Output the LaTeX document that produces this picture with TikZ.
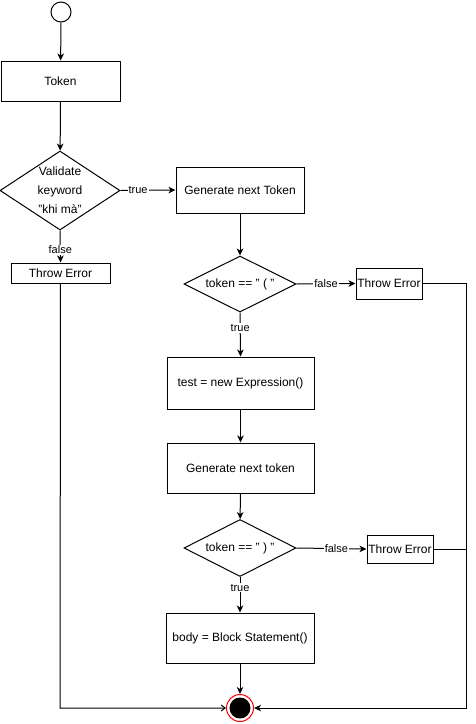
\documentclass[tikz,border=0pt]{standalone}
\usepackage{fontspec}
\setmainfont{Liberation Sans}
\usetikzlibrary{shapes.geometric,arrows.meta}

\tikzset{
  base/.style={draw=black, line width=1pt, fill=white, inner sep=0pt,
    font=\fontsize{12}{14}\selectfont, align=center},
  procbox/.style={base, rectangle},
  decision/.style={base, diamond, aspect=2},
  startnode/.style={circle, draw=black, line width=1pt, fill=white,
    minimum size=20pt, inner sep=0pt},
  flow/.style={line width=1pt, -{Stealth[length=7pt,width=6.5pt,inset=2pt]}},
  openflow/.style={line width=1pt, -{Straight Barb[length=4pt,width=6pt]}},
  lbl/.style={fill=white, inner sep=1pt, font=\fontsize{11}{13}\selectfont}
}

\begin{document}
\begin{tikzpicture}[x=1pt, y=-1pt]
  \useasboundingbox (0,0) rectangle (476,724);

  % start and main column
  \node[startnode] (start) at (61,12) {};
  \node[procbox, minimum width=119pt, minimum height=40pt] (token) at (60.5,81) {Token};
  \node[decision, aspect=1.52, inner sep=-6pt, minimum width=120pt, minimum height=79pt,
        font=\fontsize{12}{19}\selectfont] (validate) at (60,190.5)
    {Validate\\keyword\\"khi mà"};
  \node[procbox, minimum width=99pt, minimum height=20pt] (err1) at (60.5,273) {Throw Error};

  % right column
  \node[procbox, minimum width=128pt, minimum height=46pt] (gen1) at (240,190) {Generate next Token};
  \node[decision, minimum width=112pt, minimum height=56pt] (open) at (240,284) {token == " ( "};
  \node[procbox, minimum width=66pt, minimum height=31pt] (err2) at (389,283.5) {Throw Error};
  \node[procbox, minimum width=147pt, minimum height=52pt] (test) at (240.5,383) {test = new Expression()};
  \node[procbox, minimum width=147pt, minimum height=50pt] (gen2) at (240.5,468) {Generate next token};
  \node[decision, minimum width=112pt, minimum height=57pt] (close) at (240,548) {token == " ) "};
  \node[procbox, minimum width=66pt, minimum height=28pt] (err3) at (400,549) {Throw Error};
  \node[procbox, minimum width=148pt, minimum height=50pt] (body) at (240,638) {body = Block Statement()};

  % end node: red ring around a black disc
  \node[circle, draw=red, line width=1pt, fill=white, minimum size=27pt, inner sep=0pt] (finish) at (240,708) {};
  \fill[black] (finish.center) circle (10.5pt);

  % corner points of the error paths
  \coordinate (railL) at (60,708);
  \coordinate (railR) at (466,708);

  % connectors
  \draw[flow] (start) -- (token);
  \draw[flow] (token) -- (validate);
  \draw[flow] (validate.south) -- node[lbl, pos=0.6] {false} (err1.north);
  \draw[flow] (validate.east) -- node[lbl, pos=0.32] {true} (gen1.west);
  \draw[flow] (gen1) -- (open);
  \draw[flow] (open.east) -- node[lbl, pos=0.5] {false} (err2.west);
  \draw[flow] (open.south) -- node[lbl, pos=0.35] {true} (test.north);
  \draw[flow] (test) -- (gen2);
  \draw[flow] (gen2) -- (close);
  \draw[flow] (close.east) -- node[lbl, pos=0.57] {false} (err3.west);
  \draw[flow] (close.south) -- node[lbl, pos=0.3] {true} (body.north);
  \draw[flow] (body) -- (finish);

  \draw[openflow] (err1.south) -- (railL) -- (finish.west);
  \draw[flow] (err2.east) -| (railR) -- (finish.east);
  \draw[line width=1pt] (err3.east) -- (err3.east -| railR);
\end{tikzpicture}
\end{document}
